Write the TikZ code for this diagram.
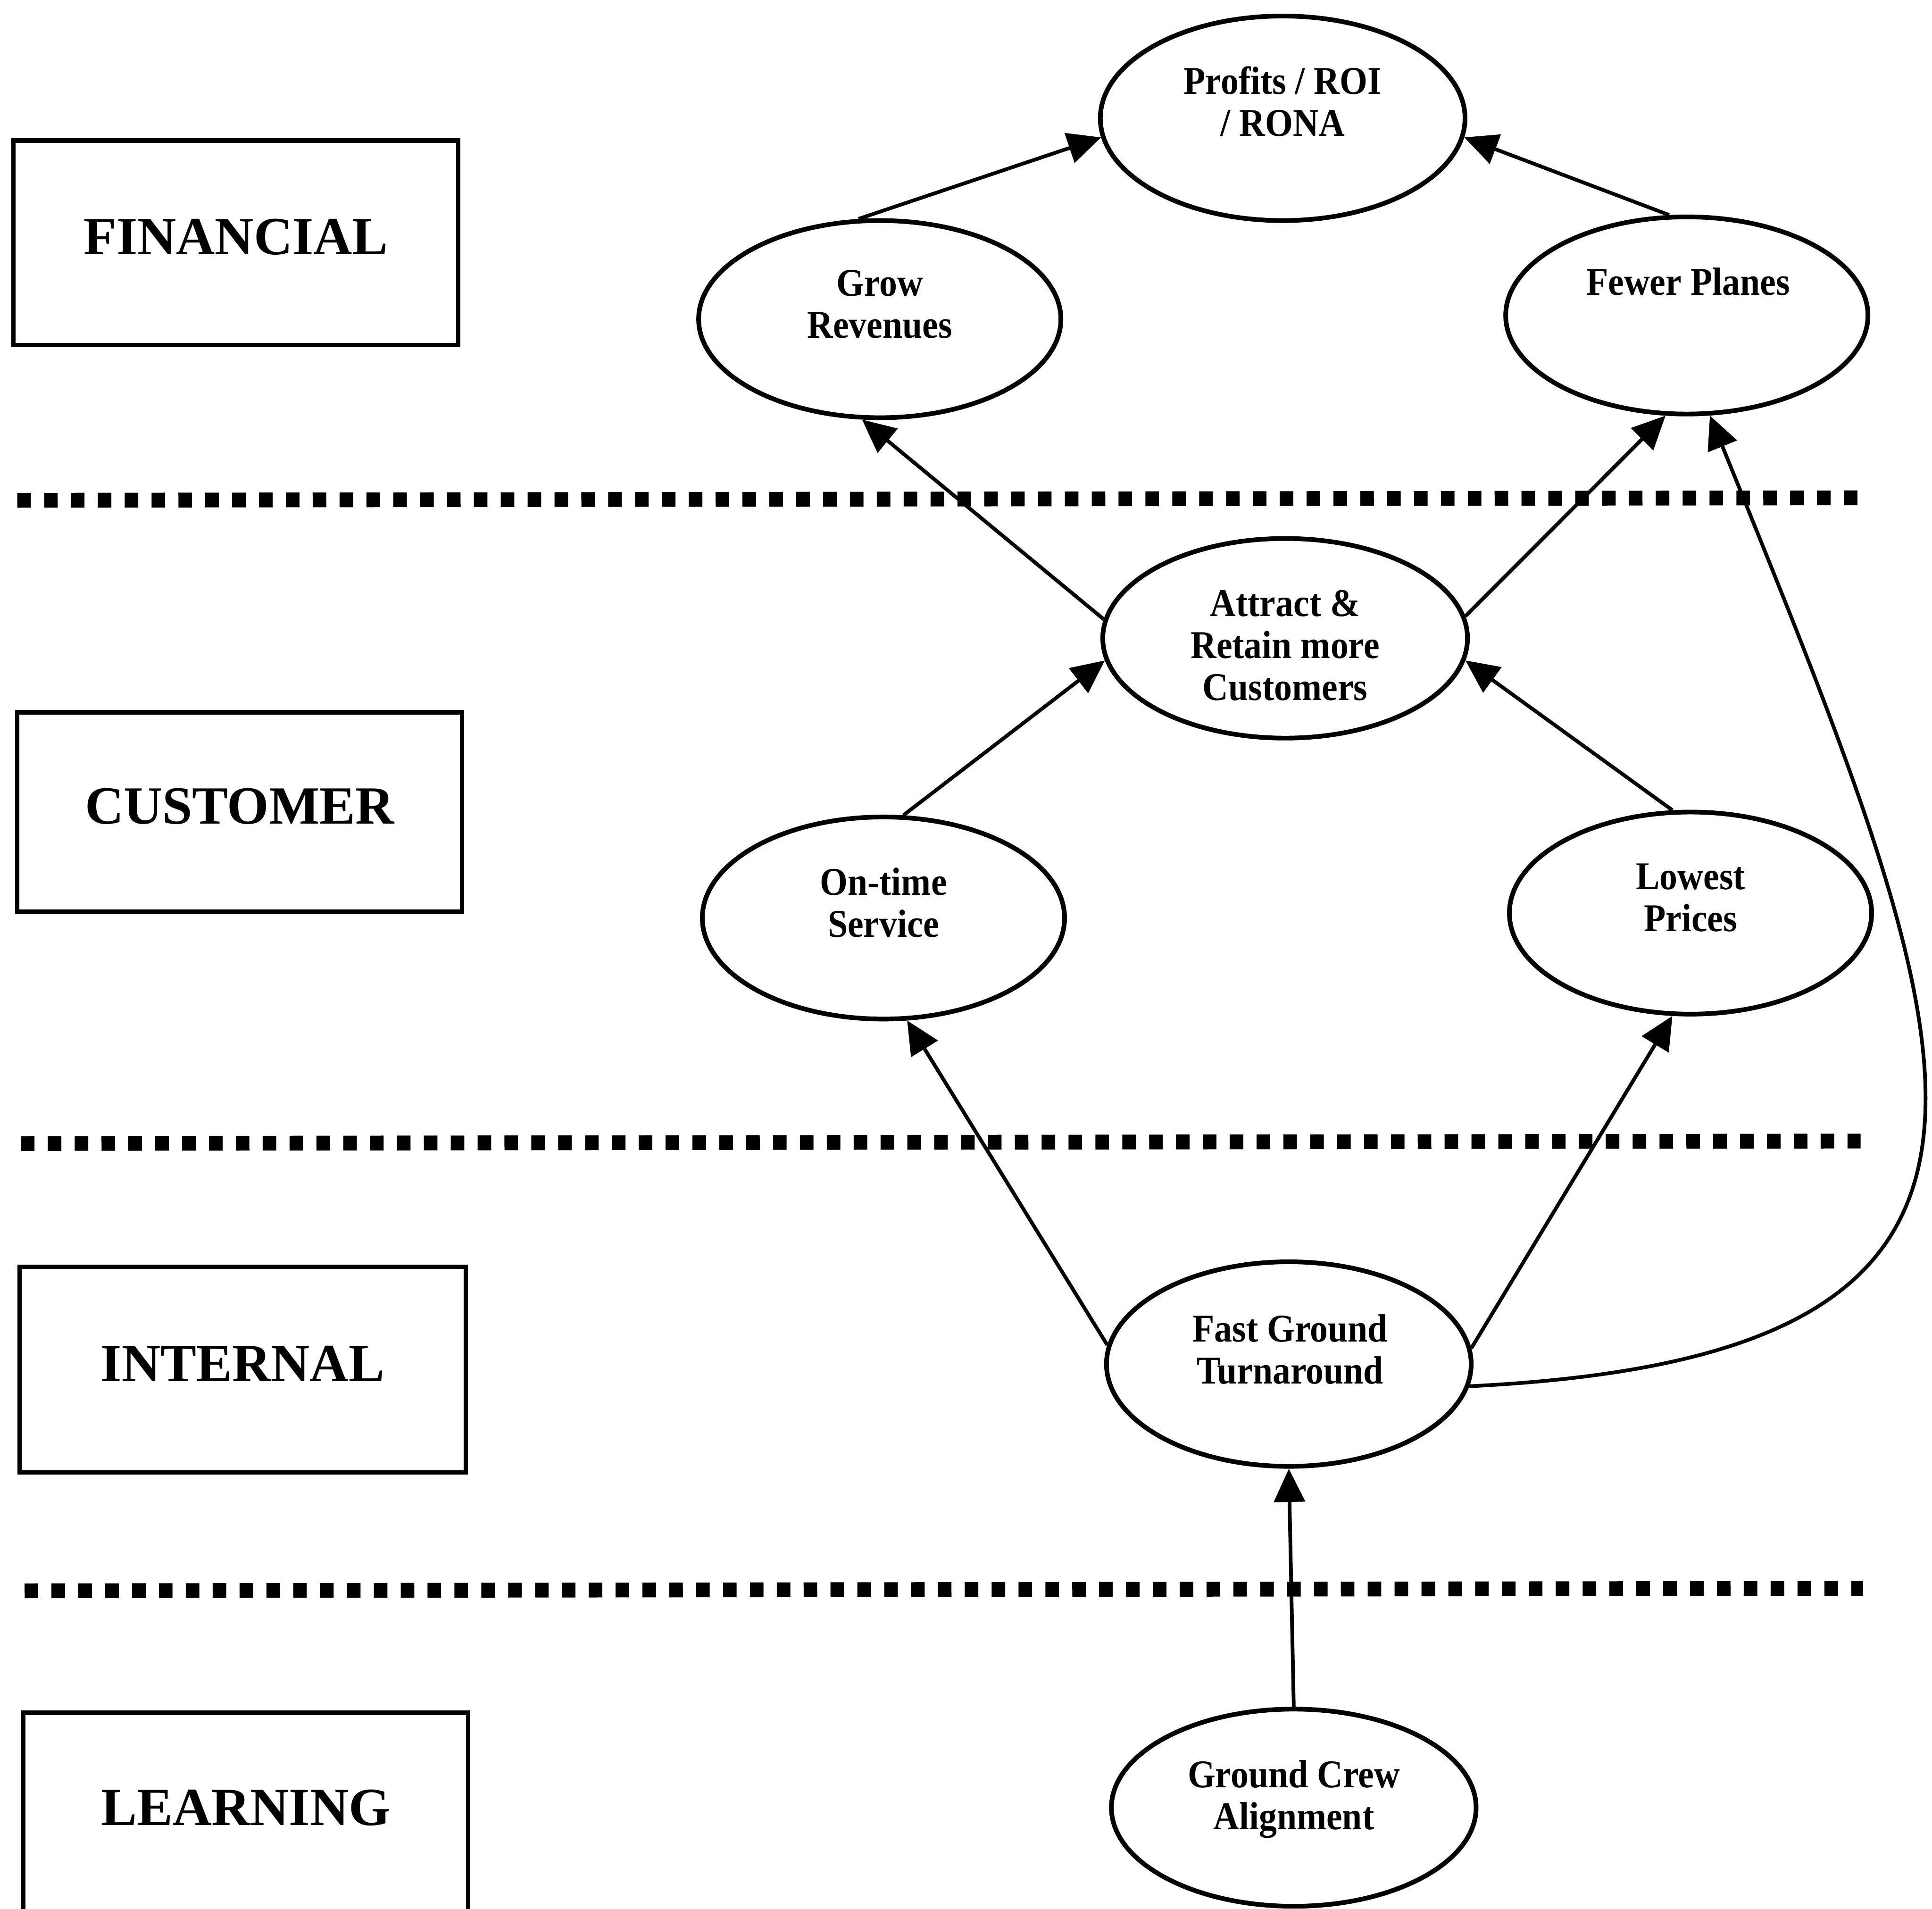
\documentclass[tikz,border=0pt]{standalone}
\usepackage{fontspec}
\setmainfont{Liberation Serif}
\usetikzlibrary{shapes.geometric,arrows.meta}
% multi-line label, slightly tall type
\newcommand\ovaltext[1]{\scalebox{1}[1.1]{\begin{tabular}{@{}c@{}}#1\end{tabular}}}

\begin{document}
\begin{tikzpicture}[x=0.5bp,y=-0.5bp,
  goal/.style={draw, ellipse, line width=1.9bp, inner sep=0pt},
  goaltext/.style={font=\fontsize{14.5bp}{15.5bp}\selectfont\bfseries, inner sep=0pt},
  persp/.style={draw, rectangle, line width=1.8bp, inner sep=0pt,
    font=\fontsize{21.8bp}{24bp}\selectfont\bfseries, text depth=5bp},
  divider/.style={line width=6bp, dash pattern=on 5.5bp off 5.4bp},
  link/.style={line width=1.5bp, -{Triangle[length=13.5bp,width=12.5bp]}}]

\clip (0,0) rectangle (1568,1549);

% perspective boxes
\node[persp, minimum width=180.5bp, minimum height=83bp] (financial) at (191.5,197) {FINANCIAL};
\node[persp, minimum width=180.5bp, minimum height=81bp] (customer) at (194.5,659) {CUSTOMER};
\node[persp, minimum width=181bp, minimum height=83.5bp] (internal) at (197,1111.5) {INTERNAL};
\node[persp, minimum width=180.5bp, minimum height=82bp] (learning) at (199.5,1472) {LEARNING};

% layer separators
\draw[divider] (14,406) -- (1508,404);
\draw[divider] (17,928) -- (1510,926);
\draw[divider] (20,1291) -- (1512,1289);

% objectives
\node[goal, minimum width=148bp, minimum height=83bp] (profits) at (1041,96) {};
\node[goal, minimum width=147bp, minimum height=80bp] (grow) at (714,259) {};
\node[goal, minimum width=147bp, minimum height=80bp] (fewer) at (1369,256) {};
\node[goal, minimum width=148bp, minimum height=81bp] (attract) at (1043,518) {};
\node[goal, minimum width=147bp, minimum height=82bp] (ontime) at (717,745) {};
\node[goal, minimum width=147bp, minimum height=82bp] (lowest) at (1372,741) {};
\node[goal, minimum width=148bp, minimum height=83bp] (fast) at (1046,1107) {};
\node[goal, minimum width=148bp, minimum height=80bp] (crew) at (1050,1467) {};

\node[goaltext] (profits-t) at (1041,86.5) {\ovaltext{Profits / ROI\\/ RONA}};
\node[goaltext] (grow-t) at (714,250.5) {\ovaltext{Grow\\Revenues}};
\node[goaltext] (fewer-t) at (1370,232.5) {\ovaltext{Fewer Planes}};
\node[goaltext] (attract-t) at (1043,527.5) {\ovaltext{Attract \&\\Retain more\\Customers}};
\node[goaltext] (ontime-t) at (717,736.5) {\ovaltext{On-time\\Service}};
\node[goaltext] (lowest-t) at (1372,732) {\ovaltext{Lowest\\Prices}};
\node[goaltext] (fast-t) at (1047,1099) {\ovaltext{Fast Ground\\Turnaround}};
\node[goaltext] (crew-t) at (1050,1461) {\ovaltext{Ground Crew\\Alignment}};

% cause and effect links
\draw[link] (grow.102) -- (profits.186);
\draw[link] (fewer.100) -- (profits.-6);
\draw[link] (attract.174) -- (grow.260);
\draw[link] (attract.7) -- (fewer.258);
\draw[link] (ontime.79) -- (attract.187);
\draw[link] (lowest.100) -- (attract.-7);
\draw[link] (fast.174) -- (ontime.283);
\draw[link] (fast.5) -- (lowest.260);
\draw[link] (crew.90) -- (fast.270);
\draw[link] (fast.-7) .. controls (1700,1100) and (1600,860) .. (fewer.283);

\end{tikzpicture}
\end{document}
